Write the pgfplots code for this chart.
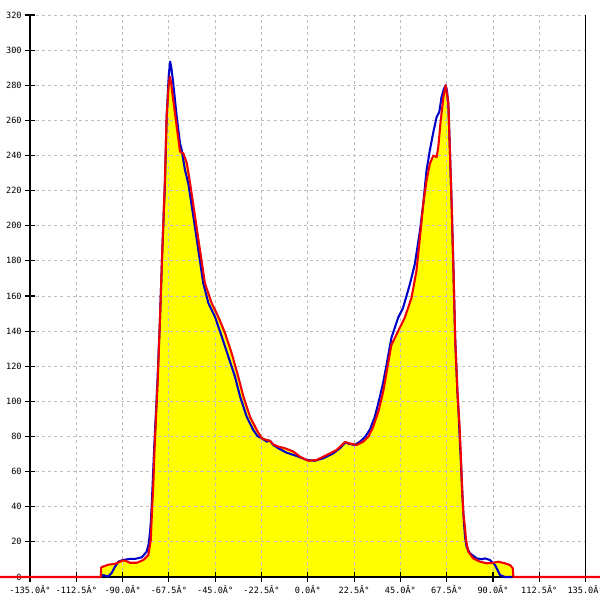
\documentclass[border=0pt]{standalone}
\usepackage{pgfplots}
\pgfplotsset{compat=1.18}
\usepackage{pgfplotstable}
\usepackage{fontspec}
\newfontfamily\lblfont{DejaVu Sans Mono}
\definecolor{cblue}{RGB}{0,0,200}
\definecolor{cred}{RGB}{240,0,0}
\definecolor{cyel}{RGB}{255,255,0}
\definecolor{cgrid}{RGB}{190,190,190}

\pgfplotstableread{
x y
-100.5 0
-99.4 1.1
-97.1 0.2
-95.3 2.3
-93.7 5.9
-92.1 8.7
-89.7 9.7
-86.4 10.3
-84.0 10.3
-80.7 11.2
-78.3 14.4
-77.3 19
-76.7 25.1
-76.2 32.5
-75.5 50
-74.7 72.3
-73.1 110.3
-71.8 148.2
-70.7 186.2
-69.4 224.4
-68.6 262.1
-67.6 285
-66.9 293.5
-66.3 290
-65.4 281.1
-63.7 262.1
-62.1 247.0
-61.3 243.2
-59.7 231.8
-58.1 224.2
-55.6 205.2
-53.2 186.2
-50.8 167.3
-48.3 155.9
-45.1 148.2
-41.8 136.8
-38.6 125.5
-35.4 114.1
-32.9 102.7
-29.7 91.3
-26.5 83.7
-24.4 80.2
-22.4 79.0
-20.0 77.1
-18.4 77.6
-16.8 75.2
-14.3 73.3
-10.3 70.8
-5.4 68.9
-0.5 66.6
3.5 66.2
7.5 67.6
12.4 70.4
15.6 73.3
18.1 76.5
20.5 75.7
22.9 75.2
25.4 77.1
28.0 80
30.2 84
32.5 91
34.5 100
36.5 110
38.3 121
40.6 136
43.9 147.6
46.3 153.3
49.6 166.7
52.0 178.1
54.5 197.1
56.1 212.4
57.7 231.4
59.3 242.9
61.0 253.3
62.6 261.9
63.9 264.8
65.0 273.3
66.2 278.1
67.0 280
67.6 277
68.3 269.5
69.1 241
69.9 212.4
70.8 174.3
71.6 136.2
72.7 105.7
73.3 93
73.8 80
74.3 68
75.0 50
75.6 36
76.4 23
77.2 17
78.8 13.5
82.1 10.6
84.5 10.1
86.1 10.6
88.5 9.7
91.0 6.8
93.4 1.1
95.8 0
99.1 0
}\bluedata

\pgfplotstableread{
x y
-149.6 0
-100.6 0
-100.4 5.5
-97.0 7.0
-93.7 7.5
-91.2 8.7
-90.4 9.3
-88.8 9.3
-86.4 8.1
-83.1 8.1
-79.9 9.7
-77.5 12.5
-76.3 21
-75.9 32.5
-75.0 55
-74.5 72
-73.0 110
-71.8 148
-70.7 186
-69.5 224
-68.6 262
-67.6 280
-67.0 284.9
-66.5 282
-65.4 271.6
-63.7 256.4
-62.1 242.2
-60.5 241.3
-58.8 235.6
-57.2 224.2
-54.8 205.2
-52.4 186.2
-50.0 167.3
-46.7 155.9
-43.5 148.2
-40.2 138.8
-37.0 127.4
-33.8 114.1
-31.3 102.7
-28.1 91.3
-24.8 83.7
-22.4 79.0
-20.0 78.0
-18.4 77.6
-16.8 75.5
-14.3 74.2
-11.1 73.3
-7.0 71.4
-3.8 68.5
0.2 66.2
4.3 66.6
9.2 69.5
14.0 72.3
18.1 76.9
20.5 76.0
23.8 75.2
27.0 77.1
29.5 80
31.8 85.6
34.5 95
36.8 106.5
38.5 118
40.6 132
43.9 140
47.1 147.6
50.4 159
52.8 174.3
54.5 193.3
56.1 212.4
57.7 225.7
59.3 235.2
61.0 240
62.6 239
63.4 244.8
64.6 260
65.9 273.3
67.0 280
68.3 269.5
69.1 241
69.9 212.4
70.8 174.3
71.6 136.2
72.7 105.7
73.7 86.7
74.3 71.4
75.0 50
75.6 36
76.4 28
76.9 21.1
78.0 14.4
80.4 10.6
83.7 8.7
86.9 7.8
90.1 8.1
92.6 8.7
95.8 7.8
98.3 6.8
99.6 5
99.9 0
142.1 0
}\reddata

\begin{document}
\begin{tikzpicture}
\begin{axis}[
  set layers,
  scale only axis,
  width=5.556in, height=5.62in,
  xmin=-135, xmax=135, ymin=0, ymax=320,
  clip=false,
  axis x line*=bottom,
  axis y line*=box,
  axis line style={black, line width=1pt},
  xtick={-135,-112.5,...,135},
  xticklabels={-135.0Â°,-112.5Â°,-90.0Â°,-67.5Â°,-45.0Â°,-22.5Â°,0.0Â°,22.5Â°,45.0Â°,67.5Â°,90.0Â°,112.5Â°,135.0Â°},
  ytick={0,20,...,320},
  yticklabels={0,20,40,60,80,100,120,140,160,180,200,220,240,260,280,300,320},
  ytick pos=left,
  xtick pos=bottom,
  tick align=center,
  major tick length=0.09in,
  tick style={black, line width=0.8pt},
  ticklabel style={font=\lblfont\fontsize{6.2}{7}\selectfont, black},
  xticklabel style={yshift=0.01in},
  yticklabel style={xshift=0.01in},
  grid=major,
  major grid style={cgrid, line width=0.6pt, dash pattern=on 2.2pt off 2.2pt},
]
\addplot[fill=cyel, draw=none, on layer=axis background] table[x=x,y=y] {\reddata} \closedcycle;
\addplot[cblue, line width=1.5pt, line join=round] table[x=x,y=y] {\bluedata};
\addplot[cred, line width=1.5pt, line join=round] table[x=x,y=y] {\reddata};
\end{axis}
\pgfresetboundingbox
\path (current axis.south west) ++(-0.30in,-0.23in) rectangle ++(6in,6in);
\end{tikzpicture}
\end{document}
